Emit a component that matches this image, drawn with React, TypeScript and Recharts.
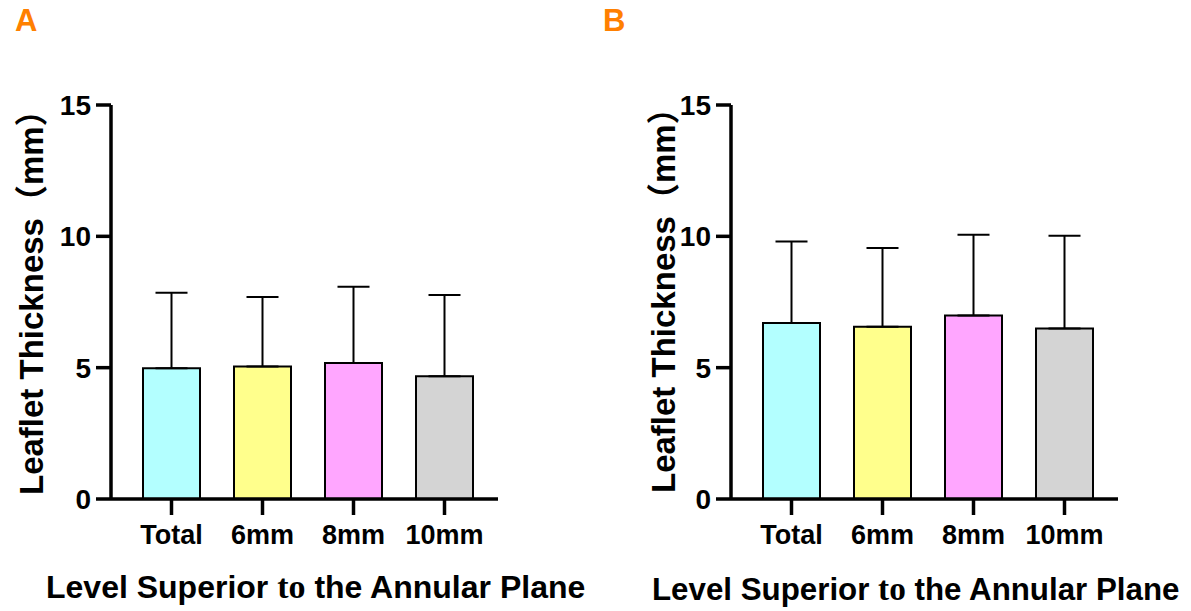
import React from 'react';
import { BarChart, Bar, XAxis, YAxis, ErrorBar, Cell } from 'recharts';

const categories = ['Total', '6mm', '8mm', '10mm'];
const meanA = [4.98, 5.04, 5.18, 4.67];
const upperA = [7.85, 7.69, 8.08, 7.77];
const meanB = [6.7, 6.56, 6.99, 6.49];
const upperB = [9.8, 9.56, 10.06, 10.02];
const barColors = ['#B3FFFF', '#FFFF8C', '#FFA6FF', '#D4D4D4'];
const yTicks = [0, 5, 10, 15];

const FONT = '"Liberation Sans", Arial, "Noto Sans CJK SC", sans-serif';
const SERIF = '"Liberation Serif", "Times New Roman", "DejaVu Serif", serif';

function build(mean: number[], upper: number[]) {
  return categories.map((c, i) => ({ name: c, mean: mean[i], err: [0, upper[i] - mean[i]] }));
}

type PanelProps = {
  data: any[];
  letter: string;
  letterX: number;
  left: number;
  width: number;
  axisWidth: number;
  yLabelX: number;
  yLabelY: number;
  titleX: number;
  titleY: number;
  titleSize: number;
};

function Panel({ data, letter, letterX, left, width, axisWidth, yLabelX, yLabelY, titleX, titleY, titleSize }: PanelProps) {
  const plotRight = axisWidth + 387;
  return (
    <div style={{ position: 'absolute', left, top: 0 }}>
      <BarChart
        width={width}
        height={611}
        data={data}
        margin={{ top: 105, right: width - plotRight, bottom: 0, left: 0 }}
      >
        <XAxis
          dataKey="name"
          type="category"
          padding={{ left: 15, right: 8 }}
          height={112}
          axisLine={{ stroke: '#000', strokeWidth: 3.5 }}
          tickLine={{ stroke: '#000', strokeWidth: 3.5 }}
          tickSize={16}
          tickMargin={10}
          tick={{ fill: '#000', fontSize: 27, fontWeight: 'bold', fontFamily: FONT }}
          interval={0}
          label={{
            content: () => (
              <text x={titleX} y={titleY} fontSize={titleSize} fontWeight="bold" fontFamily={FONT} fill="#000">
                {'Level Superior '}
                <tspan style={{ fontFamily: SERIF, fontSize: titleSize + 2 }}>to</tspan>
                {' the Annular Plane'}
              </text>
            ),
          }}
        />
        <YAxis
          type="number"
          domain={[0, 15]}
          ticks={yTicks}
          width={axisWidth}
          axisLine={{ stroke: '#000', strokeWidth: 3.5 }}
          tickLine={{ stroke: '#000', strokeWidth: 3.5 }}
          tickSize={15}
          tickMargin={5}
          tick={{ fill: '#000', fontSize: 28, fontWeight: 'bold', fontFamily: FONT }}
          label={{
            content: () => (
              <g>
                <text x={letterX} y={31} fontSize={31} fontWeight="bold" fontFamily={FONT} fill="#FF8000">
                  {letter}
                </text>
                <text
                  x={yLabelX}
                  y={yLabelY}
                  transform={`rotate(-90, ${yLabelX}, ${yLabelY})`}
                  textAnchor="start"
                  fontSize={33}
                  fontWeight="bold"
                  fontFamily={FONT}
                  fill="#000"
                >
                  Leaflet Thickness（mm）
                </text>
              </g>
            ),
          }}
        />
        <Bar dataKey="mean" barSize={57} stroke="#000" strokeWidth={2} isAnimationActive={false}>
          {data.map((_, i) => (
            <Cell key={i} fill={barColors[i]} />
          ))}
          <ErrorBar dataKey="err" direction="y" width={16} stroke="#000" strokeWidth={2} isAnimationActive={false} />
        </Bar>
      </BarChart>
    </div>
  );
}

export default function App() {
  return (
    <div style={{ position: 'absolute', left: 0, top: 0, width: 1191, height: 611, background: '#fff', overflow: 'hidden' }}>
      <Panel
        data={build(meanA, upperA)}
        letter="A"
        letterX={15}
        left={0}
        width={620}
        axisWidth={111}
        yLabelX={43}
        yLabelY={495}
        titleX={46}
        titleY={598}
        titleSize={32}
      />
      <Panel
        data={build(meanB, upperB)}
        letter="B"
        letterX={3}
        left={600}
        width={591}
        axisWidth={131}
        yLabelX={75}
        yLabelY={493}
        titleX={52}
        titleY={600}
        titleSize={31.3}
      />
    </div>
  );
}
